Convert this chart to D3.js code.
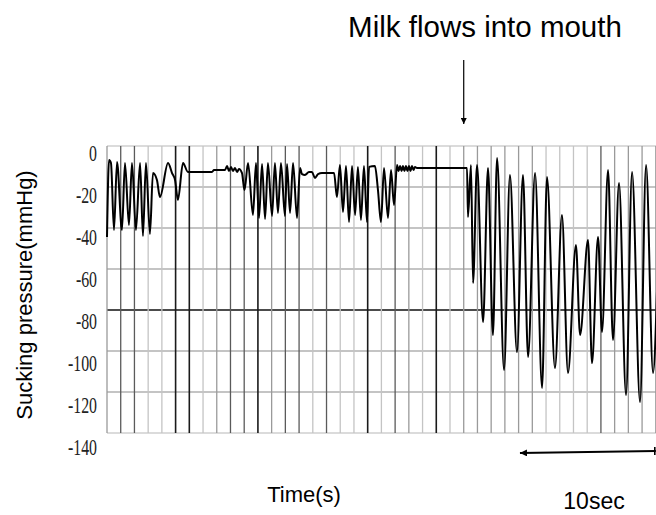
<!DOCTYPE html>
<html>
<head>
<meta charset="utf-8">
<script src="https://cdn.jsdelivr.net/npm/d3@7"></script>
<style>
  body { margin: 0; background: #fff; }
  svg { display: block; }
</style>
</head>
<body>
<svg id="chart"></svg>
<script>
// sucking pressure trace (time in s, pressure in mmHg)
var traceTime = [
  0.00,0.15,0.29,0.51,0.73,1.09,1.31,1.60,1.82,2.11,2.41,2.62,2.84,3.13,3.35,
  3.64,3.86,4.45,4.74,4.96,5.17,5.54,5.90,
  7.65,7.80,8.60,8.75,8.89,9.04,9.18,9.33,9.48,9.62,9.84,10.02,
  10.28,10.64,10.86,11.08,11.30,11.52,11.73,12.03,12.24,12.46,12.68,12.97,13.12,13.34,13.56,13.85,14.07,
  14.21,14.43,14.72,14.94,15.16,15.38,15.67,16.55,16.76,
  16.98,17.20,17.42,17.64,17.86,18.08,18.29,18.51,18.73,18.95,19.10,19.53,19.75,19.97,20.19,20.48,20.70,20.92,21.14,
  21.25,21.36,21.47,21.57,21.68,21.79,21.90,22.01,22.12,22.23,22.34,22.45,22.59,26.09,
  26.24,26.31,26.53,26.68,26.97,27.41,27.77,28.13,28.43,28.94,29.37,29.88,30.32,30.69,31.20,31.71,
  32.07,32.65,33.16,33.60,34.18,34.48,35.06,35.35,35.79,36.08,36.52,36.88,37.32,37.83,38.27,38.85,
  39.29,39.80,40.09
];
var tracePressure = [
  -44.4,-6.8,-8.3,-41.0,-7.8,-41.0,-8.3,-38.5,-8.3,-41.0,-8.3,-43.9,-8.3,-42.9,-13.2,
  -16.6,-24.9,-8.3,-13.2,-16.6,-26.3,-8.3,-12.7,
  -12.7,-11.7,-11.7,-9.8,-12.2,-10.2,-12.2,-10.7,-12.7,-11.2,-13.2,-21.5,
  -8.3,-33.7,-8.3,-35.1,-8.8,-35.6,-8.3,-34.1,-8.3,-32.7,-8.3,-34.1,-8.8,-32.7,-8.3,-35.1,-10.7,
  -13.7,-14.1,-12.7,-12.7,-15.6,-13.7,-13.2,-13.2,-24.9,
  -9.3,-32.2,-9.8,-37.1,-9.8,-33.7,-10.2,-36.1,-9.8,-37.1,-10.2,-9.8,-21.5,-37.1,-10.7,-35.1,-11.7,-28.8,-9.3,
  -12.2,-9.8,-12.2,-9.8,-12.2,-9.8,-12.2,-9.8,-12.2,-9.8,-11.7,-10.2,-10.7,-10.7,
  -10.7,-34.6,-9.3,-66.8,-9.3,-85.9,-10.7,-92.2,-5.9,-109.3,-14.1,-100.5,-14.1,-102.9,-13.2,-118.0,
  -15.1,-108.3,-33.7,-110.7,-48.3,-92.2,-45.9,-105.9,-44.4,-90.7,-11.7,-94.6,-18.0,-121.5,-12.7,-124.9,
  -9.3,-110.7,-70.2
];
var yTicks = [0, -20, -40, -60, -80, -100, -120, -140];
var xGridSec = d3.range(0, 41, 1);
var milkTime = 26.0;     // arrow "Milk flows into mouth"
var scaleBar = [30.1, 40]; // 10 sec bar

// how dark each 1 s grid line came out in the original print (0 light .. 3 black)
var gridShade = [1,2,2,0,0,3,3,0,1,2,2,3,1,2,2,0,2,0,0,3,0,2,1,0,3,0,1,1,1,1,1,1,0,0,0,0,2,1,1,1,1];
var shadeColor = ["#c4c4c4", "#9a9a9a", "#5a5a5a", "#1a1a1a"];

var width = 656, height = 515;
var svg = d3.select("#chart").attr("width", width).attr("height", height);

var x = d3.scaleLinear().domain([0, 40]).range([107, 655.8]);
var y = d3.scaleLinear().domain([0, -140]).range([146, 433]);
// tick labels sit a little lower than their grid lines in the original
var yLab = d3.scaleLinear().domain([0, -140]).range([152, 446]);

var defs = svg.append("defs");
// both heads are drawn pointing along +x, orient=auto turns them with the line
defs.append("marker").attr("id", "headEnd")
    .attr("viewBox", "0 0 10 10").attr("refX", 10).attr("refY", 5)
    .attr("markerWidth", 9).attr("markerHeight", 6).attr("markerUnits", "userSpaceOnUse")
    .attr("orient", "auto")
  .append("path").attr("d", "M0,0 L10,5 L0,10 Z").attr("fill", "#000");
defs.append("marker").attr("id", "headLeft")
    .attr("viewBox", "0 0 10 10").attr("refX", 0).attr("refY", 5)
    .attr("markerWidth", 9).attr("markerHeight", 7).attr("markerUnits", "userSpaceOnUse")
    .attr("orient", "auto")
  .append("path").attr("d", "M10,0 L0,5 L10,10 Z").attr("fill", "#000");
defs.append("clipPath").attr("id", "plotClip")
  .append("rect").attr("x", 106).attr("y", 140).attr("width", 560).attr("height", 300);

// horizontal grid
svg.append("g").selectAll("line")
    .data(yTicks).enter().append("line")
    .attr("x1", x(0)).attr("x2", width)
    .attr("y1", function(d){ return y(d); })
    .attr("y2", function(d){ return y(d); })
    .attr("stroke", function(d){
        if (d == -80) return "#111";
        if (d == 0 || d == -140) return "#b8b8b8";
        return "#8a8a8a";
    })
    .attr("stroke-width", function(d){ return d == -80 ? 1.4 : 1.2; });

// vertical grid, one line per second
svg.append("g").selectAll("line")
    .data(xGridSec).enter().append("line")
    .attr("x1", function(d){ return x(d); })
    .attr("x2", function(d){ return x(d); })
    .attr("y1", y(0)).attr("y2", y(-140))
    .attr("stroke", function(d, i){ return shadeColor[gridShade[i]]; })
    .attr("stroke-width", function(d, i){ return gridShade[i] == 3 ? 1.6 : 1.3; });

// y tick labels
var yAxis = svg.append("g")
    .attr("transform", "translate(97,0)")
    .call(d3.axisLeft(yLab).tickValues(yTicks).tickSize(0).tickPadding(0)
        .tickFormat(function(d){ return d3.format("d")(d).replace("\u2212", "-"); }));
yAxis.select(".domain").remove();
yAxis.selectAll("text")
    .attr("x", 0).attr("dy", "0.35em")
    .attr("transform", "scale(0.66,1)")
    .style("font-family", "'Liberation Serif', 'DejaVu Serif', serif")
    .style("font-size", "24px")
    .attr("fill", "#222");

// the trace
var line = d3.line()
    .x(function(d){ return x(d[0]); })
    .y(function(d){ return y(d[1]); })
    .curve(d3.curveMonotoneX);
var pts = traceTime.map(function(t, i){ return [t, tracePressure[i]]; });
svg.append("path")
    .datum(pts)
    .attr("clip-path", "url(#plotClip)")
    .attr("d", line)
    .attr("fill", "none")
    .attr("stroke", "#000")
    .attr("stroke-width", 2)
    .attr("stroke-linejoin", "round");

// annotations
svg.append("text")
    .attr("x", 485).attr("y", 37)
    .attr("text-anchor", "middle")
    .style("font-family", "'Liberation Sans', Arial, sans-serif")
    .style("font-size", "29.5px")
    .text("Milk flows into mouth");
svg.append("line")
    .attr("x1", x(milkTime)).attr("x2", x(milkTime))
    .attr("y1", 60).attr("y2", 124)
    .attr("stroke", "#000").attr("stroke-width", 1.2)
    .attr("marker-end", "url(#headEnd)");

svg.append("line")
    .attr("x1", x(scaleBar[0])).attr("x2", x(scaleBar[1]))
    .attr("y1", 453).attr("y2", 451)
    .attr("stroke", "#000").attr("stroke-width", 2)
    .attr("marker-start", "url(#headLeft)");
svg.append("line")
    .attr("x1", x(scaleBar[1]) - 1).attr("x2", x(scaleBar[1]) - 1)
    .attr("y1", 447).attr("y2", 455)
    .attr("stroke", "#000").attr("stroke-width", 1.6);

svg.append("text")
    .attr("x", 304).attr("y", 502)
    .attr("text-anchor", "middle")
    .style("font-family", "'Liberation Sans', Arial, sans-serif")
    .style("font-size", "22px")
    .text("Time(s)");
svg.append("text")
    .attr("x", 594).attr("y", 509)
    .attr("text-anchor", "middle")
    .style("font-family", "'Liberation Sans', Arial, sans-serif")
    .style("font-size", "23px")
    .text("10sec");

svg.append("text")
    .attr("transform", "translate(32,295) rotate(-90)")
    .attr("text-anchor", "middle")
    .style("font-family", "'Liberation Sans', Arial, sans-serif")
    .style("font-size", "22px")
    .text("Sucking pressure(mmHg)");
</script>
</body>
</html>
